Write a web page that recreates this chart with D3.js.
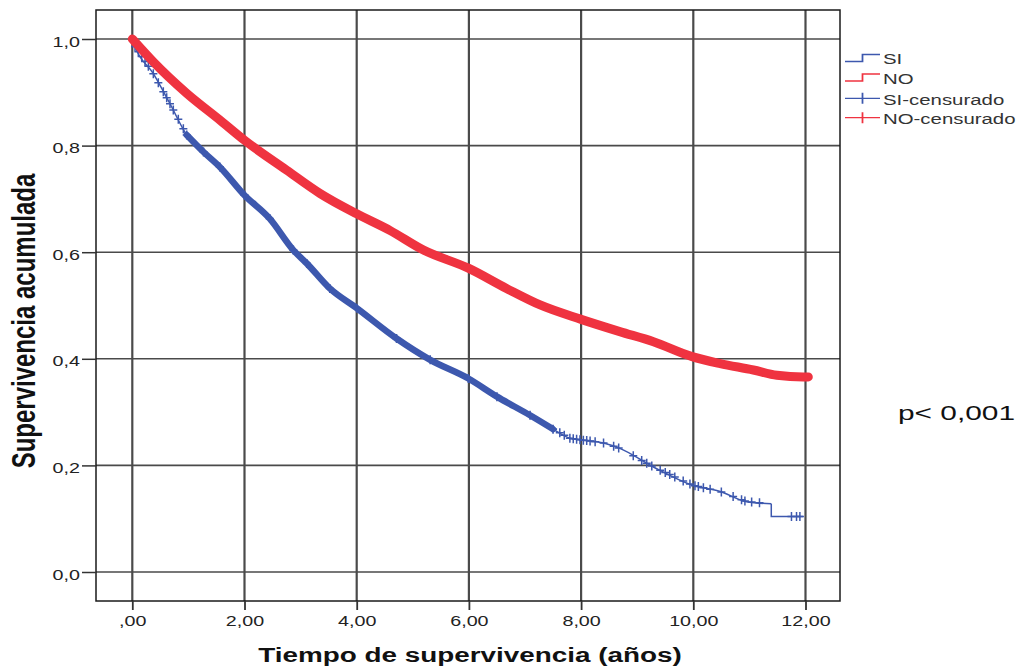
<!DOCTYPE html>
<html>
<head>
<meta charset="utf-8">
<title>Supervivencia acumulada</title>
<script src="https://d3js.org/d3.v7.min.js"></script>
<style>
  body { margin: 0; background: #fff; }
  svg text { font-family: "Liberation Sans", Arial, sans-serif; }
</style>
</head>
<body>
<div id="chart"></div>
<script>
// tick values and labels
var xTicks = [0, 2, 4, 6, 8, 10, 12];
var xTickLabels = [",00", "2,00", "4,00", "6,00", "8,00", "10,00", "12,00"];
var yTicks = [0, 0.2, 0.4, 0.6, 0.8, 1.0];
var yTickLabels = ["0,0", "0,2", "0,4", "0,6", "0,8", "1,0"];

// SI group
var siTime = [0, 0.05, 0.375, 0.67, 0.97, 1.27, 1.56, 2.0, 2.45, 2.87, 3.11, 3.52, 4.0, 4.71, 5.31, 5.99, 6.5, 7.09, 7.5, 7.8, 8.0, 8.4, 8.69, 9.29, 9.98, 10.48, 10.95, 11.39, 11.39, 11.96];
var siSurv = [1.0, 0.985, 0.935, 0.879, 0.82, 0.788, 0.76, 0.707, 0.663, 0.604, 0.579, 0.532, 0.495, 0.438, 0.398, 0.363, 0.329, 0.294, 0.268, 0.251, 0.248, 0.242, 0.232, 0.197, 0.163, 0.151, 0.132, 0.128, 0.104, 0.104];
// sparse censored cases of SI (the dense middle part shows as a band)
var siCensor = [0.048, 0.108, 0.167, 0.227, 0.286, 0.375, 0.464, 0.553, 0.613, 0.672, 0.731, 0.82, 0.91,
  7.62, 7.7, 7.8, 7.86, 7.92, 7.98, 8.04, 8.1, 8.16, 8.25, 8.4, 8.58, 8.67, 8.93, 9.08, 9.17, 9.26, 9.41, 9.5,
  9.58, 9.67, 9.82, 9.94, 10.03, 10.09, 10.18, 10.3, 10.5, 10.71, 10.86, 10.92, 11.04, 11.18, 11.75, 11.84, 11.9];
var siBand = [0.95, 7.5];

// NO group
var noTime = [0, 0.375, 0.97, 1.56, 2.0, 2.75, 3.35, 4.0, 4.59, 5.19, 5.99, 6.67, 7.27, 8.0, 8.69, 9.29, 9.98, 10.48, 11.07, 11.49, 11.96, 12.05];
var noSurv = [1.0, 0.957, 0.898, 0.848, 0.81, 0.754, 0.71, 0.672, 0.641, 0.604, 0.57, 0.532, 0.501, 0.474, 0.451, 0.432, 0.404, 0.391, 0.379, 0.369, 0.366, 0.366];

var legendLabels = ["SI", "NO", "SI-censurado", "NO-censurado"];

var width = 1018, height = 672;
var stretch = 1.36;   // the original picture is widened horizontally
var blue = "#3d58ae", red = "#ef3340";
var box = { left: 96, right: 840, top: 10, bottom: 601 };

var svg = d3.select("#chart").append("svg")
  .attr("width", width)
  .attr("height", height);

var x = d3.scaleLinear().domain([0, 12]).range([132.3, 805.5]);
var y = d3.scaleLinear().domain([0, 1]).range([572, 39]);

// grid
svg.append("g").selectAll("line")
  .data(xTicks)
  .enter().append("line")
  .attr("x1", function(d) { return x(d); })
  .attr("x2", function(d) { return x(d); })
  .attr("y1", box.top)
  .attr("y2", box.bottom)
  .attr("stroke", "#4a4a4a")
  .attr("stroke-width", 2.2);

svg.append("g").selectAll("line")
  .data(yTicks)
  .enter().append("line")
  .attr("x1", box.left)
  .attr("x2", box.right)
  .attr("y1", function(d) { return y(d); })
  .attr("y2", function(d) { return y(d); })
  .attr("stroke", "#4a4a4a")
  .attr("stroke-width", 1.6);

svg.append("rect")
  .attr("x", box.left)
  .attr("y", box.top)
  .attr("width", box.right - box.left)
  .attr("height", box.bottom - box.top)
  .attr("fill", "none")
  .attr("stroke", "#1a1a1a")
  .attr("stroke-width", 1.5);

// axes
var xAxis = d3.axisBottom(x).tickValues(xTicks).tickSize(9).tickPadding(6)
  .tickFormat(function(d, i) { return xTickLabels[i]; });
var gx = svg.append("g").attr("transform", "translate(0," + box.bottom + ")").call(xAxis);
gx.select(".domain").remove();
gx.selectAll("line").attr("stroke", "#333").attr("stroke-width", 1.8);
gx.selectAll("text")
  .attr("font-size", "14.5px")
  .attr("fill", "#222")
  .attr("transform", "scale(" + stretch + ",1)");

var yAxis = d3.axisLeft(y).tickValues(yTicks).tickSize(14).tickPadding(2)
  .tickFormat(function(d, i) { return yTickLabels[i]; });
var gy = svg.append("g").attr("transform", "translate(" + box.left + ",0)").call(yAxis);
gy.select(".domain").remove();
gy.selectAll("line").attr("stroke", "#333").attr("stroke-width", 1.5);
gy.selectAll("text")
  .attr("font-size", "14.5px")
  .attr("fill", "#222")
  .attr("x", -16 / stretch)
  .attr("y", 2.5)
  .attr("transform", "scale(" + stretch + ",1)");

// titles
svg.append("text")
  .attr("transform", "translate(470,662) scale(" + stretch + ",1)")
  .attr("text-anchor", "middle")
  .attr("font-size", "20.5px")
  .attr("font-weight", "bold")
  .attr("fill", "#111")
  .text("Tiempo de supervivencia (años)");

svg.append("text")
  .attr("transform", "translate(35,321) scale(" + stretch + ",1) rotate(-90)")
  .attr("text-anchor", "middle")
  .attr("font-size", "24px")
  .attr("font-weight", "bold")
  .attr("fill", "#111")
  .text("Supervivencia acumulada");

svg.append("text")
  .attr("x", 898)
  .attr("y", 420)
  .attr("font-family", "Lato, 'Open Sans', sans-serif")
  .attr("font-size", "21px")
  .attr("textLength", 117)
  .attr("lengthAdjust", "spacingAndGlyphs")
  .attr("fill", "#111")
  .text("p< 0,001");

// curves
function pairs(t, s) { return t.map(function(d, i) { return [d, s[i]]; }); }
function survAt(t, s, v) {
  for (var i = t.length - 1; i >= 0; i--) {
    if (t[i] <= v) {
      if (i === t.length - 1 || t[i + 1] === t[i]) return s[i];
      var f = (v - t[i]) / (t[i + 1] - t[i]);
      return s[i] + f * (s[i + 1] - s[i]);
    }
  }
  return s[0];
}

var line = d3.line()
  .x(function(d) { return x(d[0]); })
  .y(function(d) { return y(d[1]); })
  .curve(d3.curveMonotoneX);
var straight = d3.line()
  .x(function(d) { return x(d[0]); })
  .y(function(d) { return y(d[1]); });

var siData = pairs(siTime, siSurv);
var noData = pairs(noTime, noSurv);
var cross = "M-4,0H4M0,-4.5V4.5";
var dropAt = siTime.indexOf(11.39);

// SI
svg.append("path")
  .datum(siData.slice(0, dropAt + 1))
  .attr("d", line)
  .attr("fill", "none")
  .attr("stroke", blue)
  .attr("stroke-width", 1.5);

svg.append("path")
  .datum(siData.slice(dropAt))
  .attr("d", straight)
  .attr("fill", "none")
  .attr("stroke", blue)
  .attr("stroke-width", 1.5);

var bandData = siData.filter(function(d) { return d[0] >= siBand[0] && d[0] <= siBand[1]; });

svg.append("path")
  .datum(bandData)
  .attr("d", line)
  .attr("fill", "none")
  .attr("stroke", blue)
  .attr("stroke-width", 6.5)
  .attr("stroke-linejoin", "round")
  .attr("stroke-linecap", "round");

svg.append("g").selectAll("path")
  .data(bandData)
  .enter().append("path")
  .attr("transform", function(d) { return "translate(" + x(d[0]) + "," + y(d[1]) + ")"; })
  .attr("d", cross)
  .attr("stroke", blue)
  .attr("stroke-width", 1.6);

svg.append("g").selectAll("path")
  .data(siCensor)
  .enter().append("path")
  .attr("transform", function(d) { return "translate(" + x(d) + "," + y(survAt(siTime, siSurv, d)) + ")"; })
  .attr("d", cross)
  .attr("stroke", blue)
  .attr("stroke-width", 1.5);

// NO (censored marks so dense they form a band)
svg.append("path")
  .datum(noData)
  .attr("d", line)
  .attr("fill", "none")
  .attr("stroke", red)
  .attr("stroke-width", 9)
  .attr("stroke-linejoin", "round")
  .attr("stroke-linecap", "round");

// legend
var legend = svg.append("g")
  .attr("transform", "translate(845,0) scale(" + stretch + ",1)");
var iconW = 35 / stretch, textX = 38 / stretch;
var rowY = [58, 77.5, 98.3, 117.7];
var rowColor = [blue, red, blue, red];

legend.selectAll("path.step")
  .data([0, 1])
  .enter().append("path")
  .attr("class", "step")
  .attr("d", function(i) {
    return "M0," + (rowY[i] + 3.5) + "H" + iconW / 2 + "V" + (rowY[i] - 3.5) + "H" + iconW;
  })
  .attr("fill", "none")
  .attr("stroke", function(i) { return rowColor[i]; })
  .attr("stroke-width", 1.3);

legend.selectAll("path.cens")
  .data([2, 3])
  .enter().append("path")
  .attr("class", "cens")
  .attr("d", function(i) {
    return "M0," + rowY[i] + "H" + iconW + "M" + iconW / 2 + "," + (rowY[i] - 5.5) + "V" + (rowY[i] + 5.5);
  })
  .attr("fill", "none")
  .attr("stroke", function(i) { return rowColor[i]; })
  .attr("stroke-width", 1.3);

legend.selectAll("text")
  .data(legendLabels)
  .enter().append("text")
  .attr("x", textX)
  .attr("y", function(d, i) { return rowY[i] + 6.5; })
  .attr("font-size", "15px")
  .attr("fill", "#333")
  .text(function(d) { return d; });
</script>
</body>
</html>
